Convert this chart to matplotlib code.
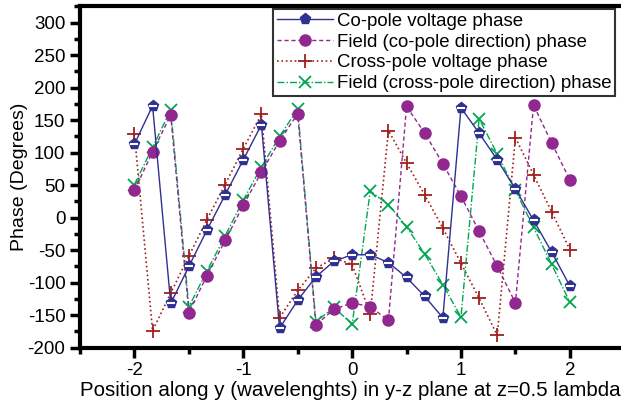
import numpy as np
import matplotlib.pyplot as plt
from matplotlib.ticker import MultipleLocator

plt.rcParams['font.family'] = ['Liberation Sans', 'DejaVu Sans']
plt.rcParams['axes.unicode_minus'] = False

# positions along y, in wavelengths (step 1/6)
pos = np.arange(25) / 6.0 - 2.0

co_volt = [113, 172, -132, -75, -19, 35, 89, 143, -170, -127, -91, -67, -57,
           -57, -69, -92, -121, -154, 169, 130, 89, 44, -4, -53, -105]
co_field = [42, 101, 158, -146, -89, -35, 19, 70, 118, 160, -165, -141, -131,
            -137, -158, 171, 130, 83, 33, -21, -75, -131, 173, 115, 58]
cross_volt = [129, -174, -116, -59, -3, 51, 106, 159, -154, -112, -78, -62, -72,
              -148, 134, 84, 35, -16, -70, -124, -181, 123, 66, 9, -49]
cross_field = [51, 108, 166, -137, -82, -28, 27, 78, 125, 167, -160, -138, -164,
               41, 20, -14, -56, -103, -153, 152, 98, 42, -15, -72, -130]

labels = ["Co-pole voltage phase", "Field (co-pole direction) phase",
          "Cross-pole voltage phase", "Field (cross-pole direction) phase"]

fig = plt.figure(figsize=(6.21, 4.03), dpi=100)
ax = fig.add_axes([80 / 621, 55.3 / 403, 1 - 80 / 621, (347.7 - 5.7) / 403])

navy = '#2e3192'
purple = '#92278f'
red = '#a0201e'
green = '#00a651'

ax.plot(pos, co_volt, '-', color=navy, lw=1.0, marker='p', ms=8,
        mfc=navy, mec=navy, label=labels[0], zorder=5)
# white stripe on the pentagons
ax.plot(pos, co_volt, ls='none', marker='_', ms=6, mew=1.5, mec='white', zorder=6)
ax.plot(pos, co_field, '--', color=purple, lw=1.0, dashes=(3, 2), marker='o', ms=8,
        mfc=purple, mec=purple, label=labels[1], zorder=4)
ax.plot(pos, cross_volt, ':', color=red, lw=1.2, marker='+', ms=10, mew=1.3,
        label=labels[2], zorder=3)
ax.plot(pos, cross_field, color=green, lw=1.0, ls=(0, (5, 1.5, 1, 1.5)), marker='x',
        ms=9, mew=1.3, label=labels[3], zorder=3)

ax.set_xlim(-2.5, 2.47)
ax.set_ylim(-200, 326)
ax.xaxis.set_major_locator(MultipleLocator(1))
ax.xaxis.set_minor_locator(MultipleLocator(0.5))
ax.yaxis.set_major_locator(MultipleLocator(50))
ax.yaxis.set_minor_locator(MultipleLocator(25))
ax.tick_params(which='major', direction='out', length=7, width=2.5, labelsize=13.5)
ax.tick_params(which='minor', direction='out', length=4, width=2.5)
for s in ['left', 'bottom', 'top']:
    ax.spines[s].set_linewidth(3)
ax.spines['right'].set_visible(False)

ax.set_xlabel("Position along y (wavelenghts) in y-z plane at z=0.5 lambda",
              fontsize=14.8, labelpad=1)
ax.set_ylabel("Phase (Degrees)", fontsize=14, labelpad=0)

leg = ax.legend(loc='upper right', bbox_to_anchor=((615 - 80) / 541, 0.99),
                fontsize=13.4, frameon=True, fancybox=False, edgecolor='black',
                borderpad=0.2, labelspacing=0.2, handlelength=3.0, handletextpad=0.2,
                borderaxespad=0)
leg.get_frame().set_linewidth(1.5)

fig.savefig("out.png", dpi=100)
